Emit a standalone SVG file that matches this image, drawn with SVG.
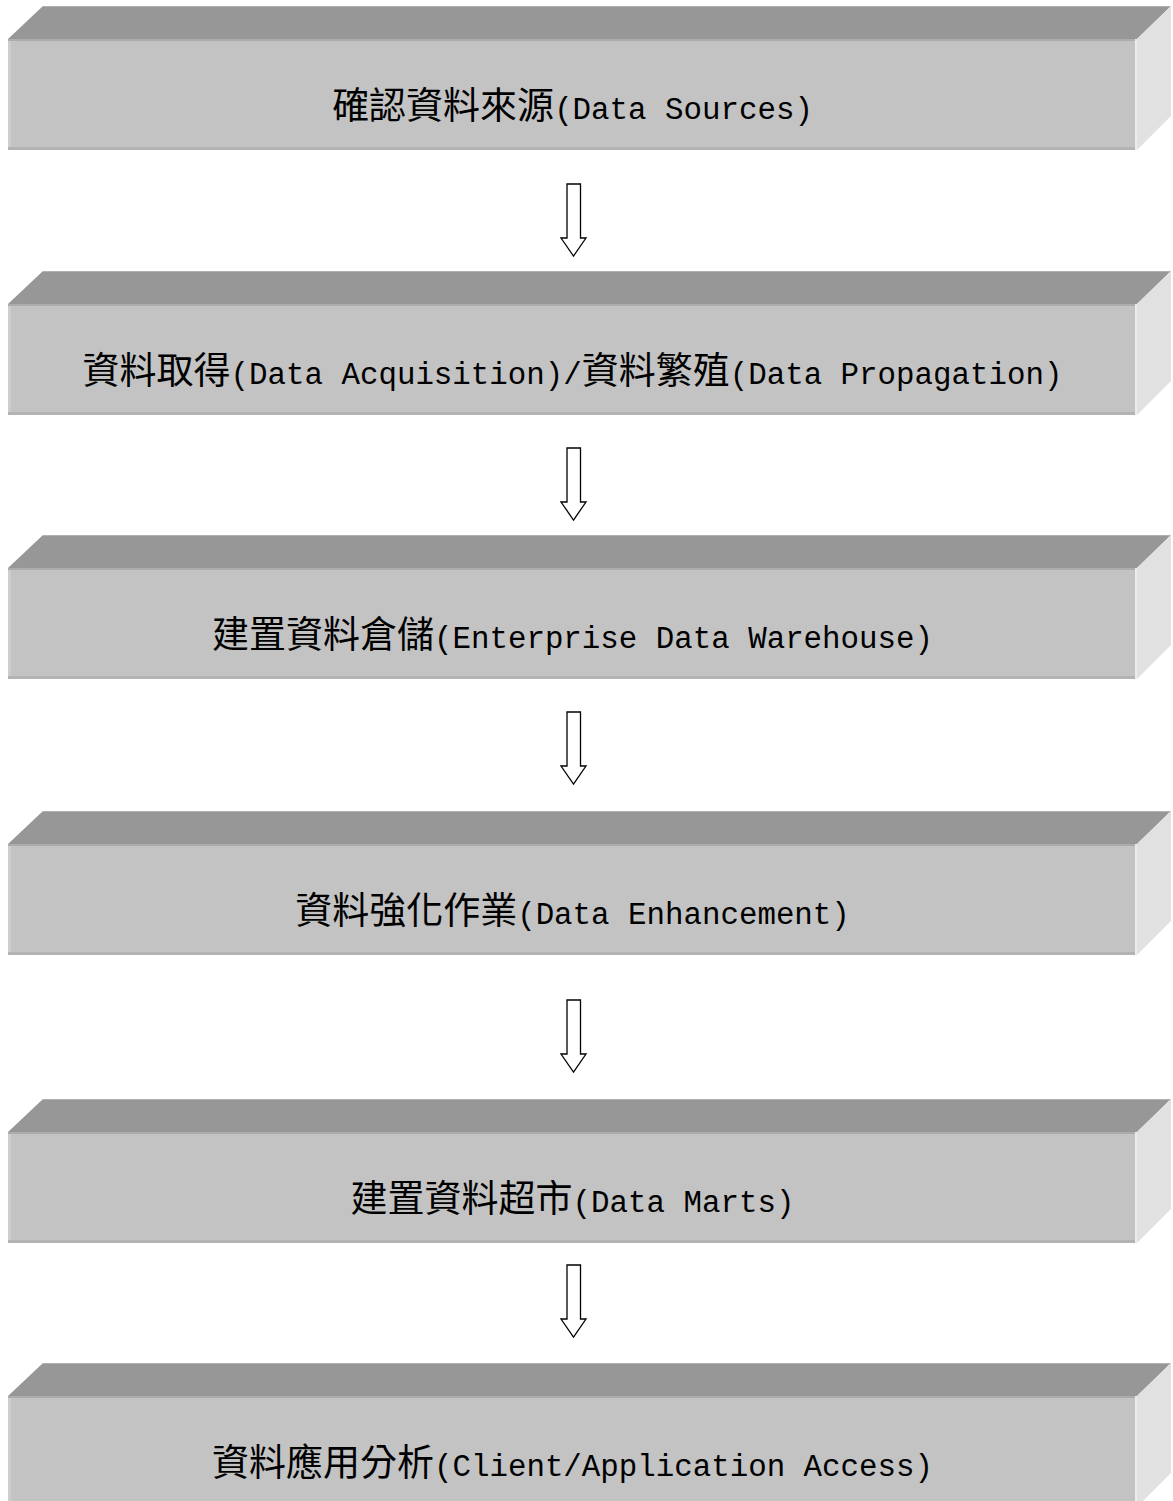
<svg xmlns="http://www.w3.org/2000/svg" xmlns:xlink="http://www.w3.org/1999/xlink" width="1173" height="1501" viewBox="0 0 1173 1501">
<style>
.top{fill:#979797}
.topedge{fill:#b0b0b0}
.front{fill:#c3c3c3}
.lstrip{fill:#cdcdcd}
.bstrip{fill:#b3b3b3}
.tline{fill:#acacac}
.redge{fill:#ececec}
.side{fill:#e1e1e1}
.lbl{font-size:37px;fill:#000;text-anchor:middle}
.cj{font-family:"Noto Sans CJK TC","Noto Sans CJK SC",sans-serif;font-size:37px}
.la{font-family:"Liberation Mono","DejaVu Sans Mono",monospace;font-size:30.8px}
.arrow{fill:#fff;stroke:#000;stroke-width:1.3;stroke-linejoin:miter}
</style>
<defs>
<g id="box">
<polygon class="top" points="8,33 43,0 1171,0 1137,33"/>
<rect class="topedge" x="43" y="0" width="1128" height="1"/>
<polygon class="side" points="1137,33 1171,0 1171,110 1137,144"/>
<rect class="front" x="8" y="33" width="1129" height="111"/>
<rect class="lstrip" x="8" y="33" width="3" height="111"/>
<rect class="tline" x="8" y="33" width="1129" height="2"/>
<rect class="bstrip" x="8" y="141" width="1129" height="3"/>
<rect class="redge" x="1135" y="33" width="2" height="111"/>
</g>
</defs>
<rect width="1173" height="1501" fill="#fff"/>
<g id="node1">
<use xlink:href="#box" href="#box" y="6"/>
<text class="lbl" x="572.5" y="119"><tspan class="cj">確認資料來源</tspan><tspan class="la">(Data Sources)</tspan></text>
</g>
<g id="node2">
<use xlink:href="#box" href="#box" y="271"/>
<text class="lbl" x="572.5" y="384"><tspan class="cj">資料取得</tspan><tspan class="la">(Data Acquisition)/</tspan><tspan class="cj">資料繁殖</tspan><tspan class="la">(Data Propagation)</tspan></text>
</g>
<g id="node3">
<use xlink:href="#box" href="#box" y="535"/>
<text class="lbl" x="572.5" y="648"><tspan class="cj">建置資料倉儲</tspan><tspan class="la">(Enterprise Data Warehouse)</tspan></text>
</g>
<g id="node4">
<use xlink:href="#box" href="#box" y="811"/>
<text class="lbl" x="572.5" y="924"><tspan class="cj">資料強化作業</tspan><tspan class="la">(Data Enhancement)</tspan></text>
</g>
<g id="node5">
<use xlink:href="#box" href="#box" y="1099"/>
<text class="lbl" x="572.5" y="1212"><tspan class="cj">建置資料超市</tspan><tspan class="la">(Data Marts)</tspan></text>
</g>
<g id="node6">
<use xlink:href="#box" href="#box" y="1363"/>
<text class="lbl" x="572.5" y="1476"><tspan class="cj">資料應用分析</tspan><tspan class="la">(Client/Application Access)</tspan></text>
</g>
<g id="connectors">
<path class="arrow" d="M567,184 H580.5 V238 H586 L573.5,256 L561,238 H567 Z"/>
<path class="arrow" d="M567,448 H580.5 V502 H586 L573.5,520 L561,502 H567 Z"/>
<path class="arrow" d="M567,712 H580.5 V766 H586 L573.5,784 L561,766 H567 Z"/>
<path class="arrow" d="M567,1000 H580.5 V1054 H586 L573.5,1072 L561,1054 H567 Z"/>
<path class="arrow" d="M567,1265 H580.5 V1319 H586 L573.5,1337 L561,1319 H567 Z"/>
</g>
</svg>
